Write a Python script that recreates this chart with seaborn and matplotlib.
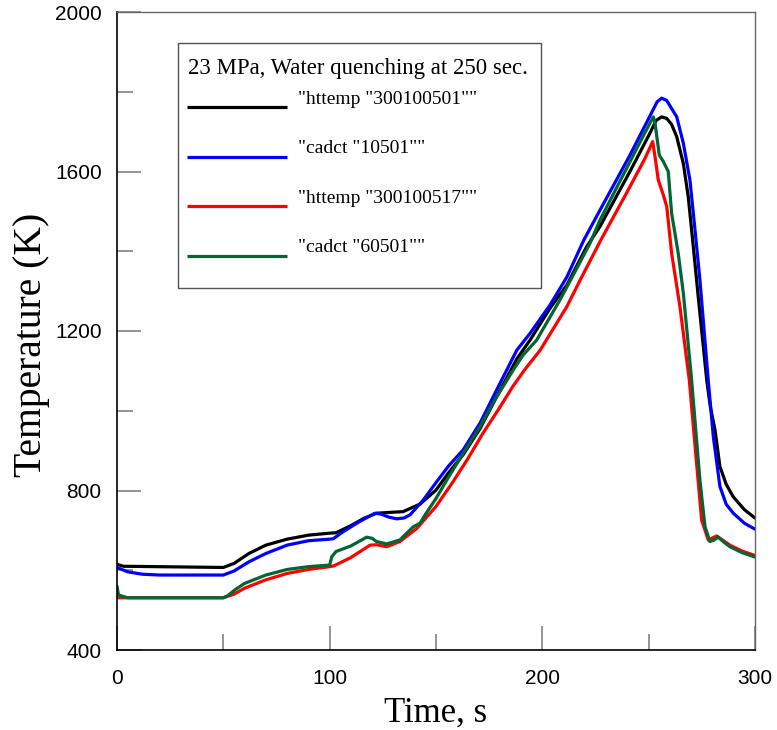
import numpy as np
import pandas as pd
import matplotlib
matplotlib.use('Agg')
import matplotlib.pyplot as plt
import seaborn as sns
from matplotlib.patches import Rectangle
from matplotlib.ticker import MultipleLocator

legend_title = '23 MPa, Water quenching at 250 sec.'
series_names = ['"httemp "300100501""', '"cadct "10501""',
                '"httemp "300100517""', '"cadct "60501""']
series_colors = ['#000000', '#0000ff', '#ff0000', '#006633']

t_black = [0, 3, 50, 55, 62, 70, 80, 90, 100, 103, 110, 116, 122, 128, 134.5, 142.5,
           150, 156, 162.8, 170.7, 178.5, 188, 194.2, 203.6, 211.5, 220.8, 227.1, 241.2,
           250, 253.5, 256.1, 258.5, 260.8, 263.2, 266.3, 268.6, 271, 273.3, 277.3, 279,
           281.2, 283.5, 286.5, 289.8, 295, 300]
T_black = [615, 610, 607, 617, 642, 663, 678, 688, 693, 694, 712, 730, 743, 745, 747, 766,
           801, 845, 890, 955, 1035, 1130, 1177, 1257, 1315, 1411, 1462, 1600,
           1690, 1728, 1737, 1733, 1718, 1687, 1620, 1537, 1411, 1286, 1077, 1010,
           952, 860, 815, 784, 752, 731]

t_blue = [0, 5, 12, 20, 50, 55, 62, 70, 80, 90, 100, 101.7, 106.4, 114, 121.3, 124, 128,
          131.5, 135, 137.8, 144, 150.3, 156, 162.8, 170.7, 178.5, 188, 194.2, 203.6, 211.5,
          219.5, 227.1, 241.2, 250, 254, 256.1, 258.5, 260.8, 263.2, 266.3, 269.4, 271.8,
          274.1, 278, 280.4, 283.5, 286.5, 289.8, 295, 300]
T_blue = [607, 596, 590, 588, 588, 598, 621, 642, 663, 674, 678, 679, 697, 722, 743, 741, 733,
          729, 731, 739, 776, 822, 862, 902, 969, 1052, 1152, 1194, 1265, 1335,
          1428, 1503, 1641, 1733, 1775, 1784, 1778, 1758, 1737, 1671, 1579, 1453,
          1328, 1077, 935, 810, 765, 743, 718, 703]

t_red = [0, 50, 55, 60, 70, 80, 90, 100, 102, 110, 119, 122, 126.8, 133, 141, 150, 158, 165,
         172, 179, 186, 192, 199, 211.5, 218, 227.1, 240, 248, 251.9, 253, 254.5, 256.9,
         258.5, 260.8, 264.7, 269.1, 272, 274.9, 278, 280, 282, 285, 288.2, 294, 300]
T_red = [531, 531, 540, 555, 576, 592, 602, 609, 611, 632, 663, 664, 659, 672, 705, 760, 822, 880,
         943, 1000, 1060, 1105, 1152, 1261, 1330, 1424, 1550, 1630, 1675, 1637, 1579, 1541,
         1512, 1395, 1261, 1077, 900, 726, 676, 681, 686, 675, 663, 648, 637]

t_green = [0, 0.7, 5, 50, 52, 56, 60, 70, 80, 90, 100, 101, 103, 110, 117.4, 120, 122, 126.8,
           133, 139.3, 142.5, 145, 150, 155.5, 163, 170.7, 178, 186.3, 191, 197.3, 208.3, 215,
           222.4, 227.1, 240, 248, 252.2, 253, 255, 256.9, 259.2, 260.8, 263.9, 266.3, 270.2,
           274.1, 276.5, 278.8, 280.5, 282.7, 285, 288.2, 294, 300]
T_green = [560, 538, 531, 531, 536, 553, 567, 588, 602, 609, 613, 634, 647, 661, 683, 680, 672, 666,
           676, 709, 718, 740, 780, 830, 895, 960, 1030, 1102, 1140, 1177, 1278, 1345,
           1420, 1478, 1612, 1695, 1737, 1721, 1641, 1625, 1600, 1495, 1395, 1295, 1077,
           826, 709, 672, 675, 683, 672, 659, 644, 633]

x_ticks = [0, 100, 200, 300]
y_ticks = [400, 800, 1200, 1600, 2000]

sns.set_style('white')
plt.rcParams['font.family'] = ['Liberation Serif', 'DejaVu Serif']
plt.rcParams['text.color'] = 'black'
plt.rcParams['axes.labelcolor'] = 'black'

frames = []
for name, t, T in zip(series_names, [t_black, t_blue, t_red, t_green],
                      [T_black, T_blue, T_red, T_green]):
    frames.append(pd.DataFrame({'t': t, 'T': T, 'series': name}))
df = pd.concat(frames, ignore_index=True)

fig = plt.figure(figsize=(7.77, 7.30), dpi=100)
ax = fig.add_axes([117 / 777, 1 - 650 / 730, (755 - 117) / 777, (650 - 12) / 730])

sns.lineplot(data=df, x='t', y='T', hue='series', hue_order=series_names,
             palette=dict(zip(series_names, series_colors)), sort=False,
             estimator=None, linewidth=2.3, legend=False, ax=ax)

ax.set_xlim(0, 300)
ax.set_ylim(400, 2000)
ax.set_xticks(x_ticks)
ax.set_yticks(y_ticks)
ax.xaxis.set_minor_locator(MultipleLocator(50))
ax.yaxis.set_minor_locator(MultipleLocator(200))
ax.tick_params(which='both', direction='in', color='#777777', width=1.1,
               labelcolor='black', bottom=True, left=True, top=False, right=False)
ax.tick_params(which='major', length=17)
ax.tick_params(which='minor', length=11.5)
ax.tick_params(axis='x', which='major', pad=14)
ax.tick_params(axis='y', which='major', pad=11)
for lab in ax.get_xticklabels() + ax.get_yticklabels():
    lab.set_family('Liberation Sans')
    lab.set_fontsize(15)

for s in ['left', 'bottom']:
    ax.spines[s].set_color('#000000')
    ax.spines[s].set_linewidth(1.2)
for s in ['top', 'right']:
    ax.spines[s].set_color('#666666')
    ax.spines[s].set_linewidth(1.0)

ax.set_xlabel('Time, s', fontsize=25, labelpad=6)
ax.set_ylabel('Temperature (K)', fontsize=28.5)
ax.yaxis.set_label_coords(-0.105, 0.478)

# legend box
def axx(px):
    return (px - 117) / 638.0

def axy(py):
    return (650 - py) / 638.0

ax.add_patch(Rectangle((axx(178), axy(288)), axx(541) - axx(178), axy(43) - axy(288),
                       transform=ax.transAxes, facecolor='white', edgecolor='#555555',
                       linewidth=1.0, zorder=5))
ax.text(axx(188), axy(74), legend_title, transform=ax.transAxes, fontsize=16.4,
        va='baseline', ha='left', zorder=6)
line_y = [106.7, 156.7, 206, 256]
text_y = [103.5, 152.7, 202.7, 251.7]
for name, col, ly, ty in zip(series_names, series_colors, line_y, text_y):
    ax.plot([axx(187), axx(287)], [axy(ly), axy(ly)], transform=ax.transAxes,
            color=col, linewidth=2.3, zorder=6, solid_capstyle='butt')
    ax.text(axx(298), axy(ty), name, transform=ax.transAxes, fontsize=14,
            va='baseline', ha='left', zorder=6)

fig.savefig('out.png', dpi=100)
